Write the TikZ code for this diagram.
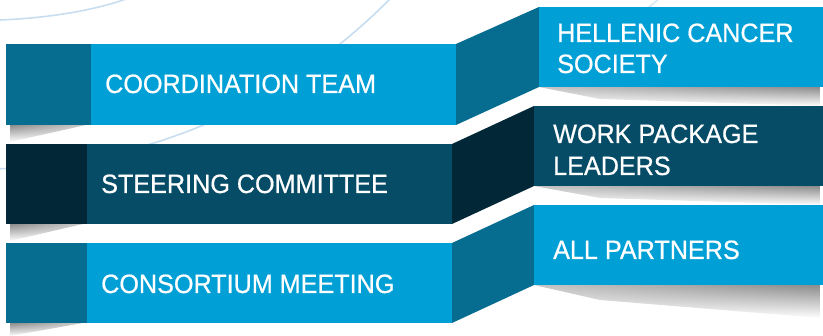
\documentclass[tikz,border=0pt]{standalone}
\usepackage{fontspec}
\setmainfont{Liberation Sans}[FakeStretch=0.95,FakeBold=0.6]
\usetikzlibrary{fadings}
\definecolor{cLight}{HTML}{009FD6}
\definecolor{cMed}{HTML}{066D91}
\definecolor{cNavy}{HTML}{064C66}
\definecolor{cDark}{HTML}{022838}
\definecolor{cArc}{HTML}{C8DDF0}
\tikzfading[name=fadedown, top color=transparent!0, bottom color=transparent!100]
\begin{document}
\begin{tikzpicture}[x=1pt,y=-1pt,
  lbl/.style={anchor=base west, text=white, inner sep=0pt, font=\fontsize{26.5}{32}\selectfont},
  arcline/.style={draw=cArc, line width=1.6pt},
  shadowR/.style={left color=gray!45, right color=gray!90, path fading=fadedown},
  shadowL/.style={left color=gray!90, right color=gray!40, path fading=fadedown}]
\useasboundingbox (0,0) rectangle (823,336);
% background arcs
\begin{scope}
\clip (0,0) rectangle (823,336);
\draw[arcline] (-17,-403) circle (572);
\draw[arcline] (0,20) .. controls (50,18) and (95,10) .. (126,-1);
\draw[arcline, cArc!70] (660,-2) -- (648,8);
\end{scope}
% shadows
\shade[shadowL] (10,125) -- (86,125) -- (10,142) -- cycle;
\shade[shadowL] (10,224) -- (83,224) -- (10,241) -- cycle;
\shade[shadowL] (10,323) -- (83,323) -- (10,336) -- cycle;
\shade[shadowR] (539,87) -- (820,87) -- (820,106) -- (600,99) -- cycle;
\shade[shadowR] (534,186) -- (820,186) -- (820,205) -- (600,198) -- cycle;
\shade[shadowR] (534,285) -- (820,285) -- (820,318) -- (600,300) -- cycle;
% row 1
\fill[cMed] (6,44) rectangle (91,125);
\fill[cLight] (91,44) rectangle (456,125);
\fill[cMed] (456,44) -- (539,7) -- (539,87) -- (456,125) -- cycle;
\fill[cLight] (539,7) rectangle (823,87);
% row 2
\fill[cDark] (6,144) rectangle (87,224);
\fill[cNavy] (87,144) rectangle (452,224);
\fill[cDark] (452,144) -- (534,106) -- (534,186) -- (452,224) -- cycle;
\fill[cNavy] (534,106) rectangle (823,186);
% row 3
\fill[cMed] (6,243) rectangle (87,323);
\fill[cLight] (87,243) rectangle (452,323);
\fill[cMed] (452,243) -- (534,205) -- (534,285) -- (452,323) -- cycle;
\fill[cLight] (534,205) rectangle (823,285);
% labels
\node[lbl] (coord) at (105,93) {COORDINATION TEAM};
\node[lbl] (steer) at (101,193) {STEERING COMMITTEE};
\node[lbl] (cons) at (101,293) {CONSORTIUM MEETING};
\node[lbl] (hcsA) at (557,42) {HELLENIC CANCER};
\node[lbl] (hcsB) at (557,73) {SOCIETY};
\node[lbl] (wplA) at (553,143) {WORK PACKAGE};
\node[lbl] (wplB) at (553,175) {LEADERS};
\node[lbl] (allp) at (553,259) {ALL PARTNERS};
\end{tikzpicture}
\end{document}
